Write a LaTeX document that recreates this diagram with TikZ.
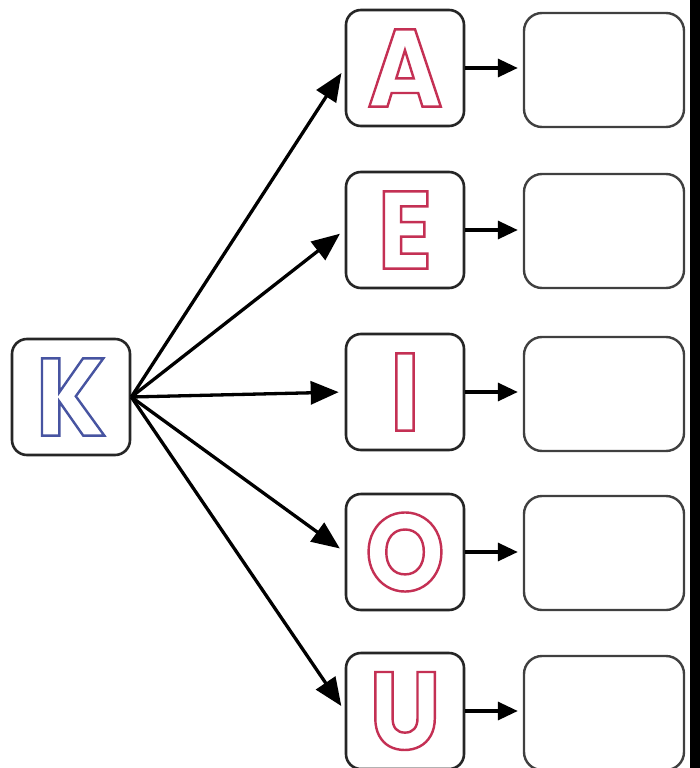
\documentclass[tikz,border=0pt]{standalone}
\usepackage{fontspec}
\setmainfont{Poppins}
\newfontfamily\outlfont[FakeBold=2.2,FakeStretch=0.92]{Poppins Bold}
\usetikzlibrary{arrows.meta}
\definecolor{vred}{RGB}{196,48,84}
\definecolor{kblue}{RGB}{72,84,160}
\newcommand{\vredstroke}{\special{pdf:code 0.77 0.19 0.33 RG}}
\newcommand{\kbluestroke}{\special{pdf:code 0.28 0.33 0.63 RG}}
\tikzset{
  letterbox/.style={draw=black!85, line width=2.6pt, rounded corners=15pt, minimum width=118pt, minimum height=116pt, inner sep=0pt, fill=white, font=\fontsize{110}{110}\outlfont},
  emptybox/.style={draw=black!75, line width=2.4pt, rounded corners=18pt, minimum width=160pt, minimum height=114pt, inner sep=0pt, fill=white},
  bigarrow/.style={line width=3.3pt, -{Triangle[length=28pt,width=23pt]}, shorten >=6pt},
  smallarrow/.style={line width=3.3pt, -{Triangle[length=20pt,width=18pt]}, shorten >=5pt}
}
\begin{document}
\begin{tikzpicture}[x=1pt,y=-1pt]
\useasboundingbox (0,0) rectangle (700,768);
\fill[white] (0,0) rectangle (700,768);
\fill[black] (690,0) rectangle (700,768);
\node[letterbox] (K) at (71,397) {\color{white}\kbluestroke K};
\node[letterbox] (A) at (405,68) {\color{white}\vredstroke A};
\node[letterbox] (E) at (405,230) {\color{white}\vredstroke E};
\node[letterbox] (I) at (405,392) {\color{white}\vredstroke I};
\node[letterbox] (O) at (405,552) {\color{white}\vredstroke O};
\node[letterbox] (U) at (405,711) {\color{white}\vredstroke U};
\node[emptybox] (RA) at (604,70) {};
\node[emptybox] (RE) at (604,231) {};
\node[emptybox] (RI) at (604,394) {};
\node[emptybox] (RO) at (604,553) {};
\node[emptybox] (RU) at (604,713) {};
\foreach \v in {A,E,I,O,U}{
  \draw[bigarrow] (K.east) -- (\v.west);
  \draw[smallarrow] (\v.east) -- (\v.east -| R\v.west);
}
\end{tikzpicture}
\end{document}
